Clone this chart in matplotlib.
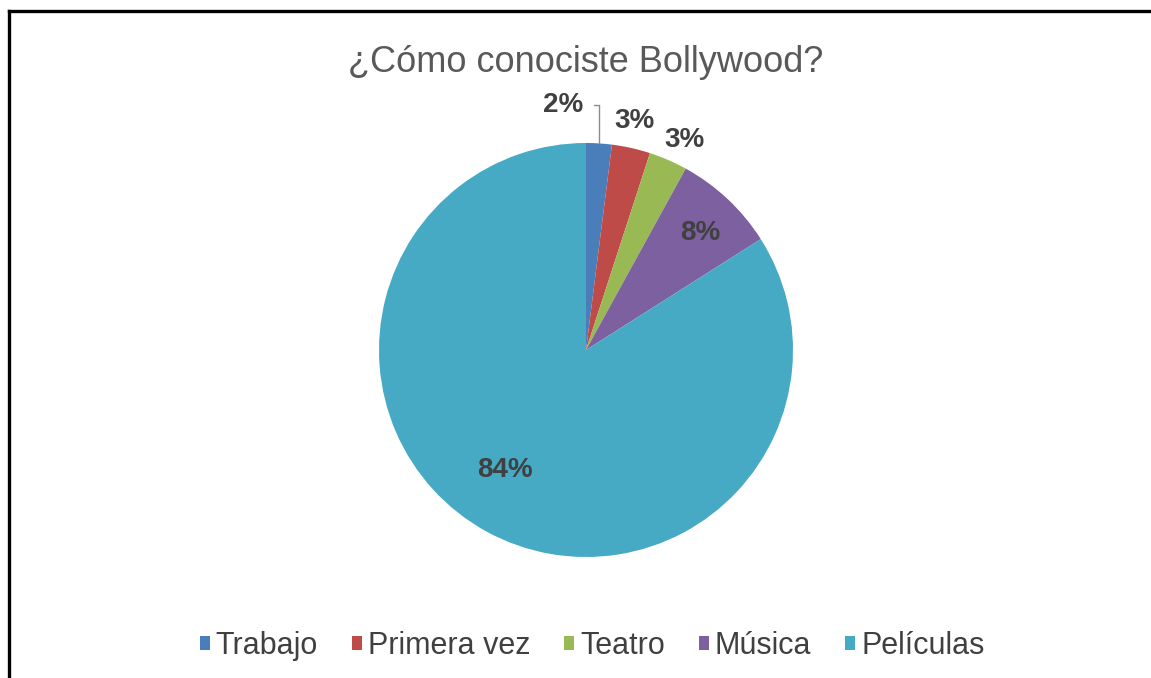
import matplotlib.pyplot as plt
from matplotlib.lines import Line2D
import numpy as np

plt.rcParams["font.family"] = ["Liberation Sans", "DejaVu Sans"]

categories = ["Trabajo", "Primera vez", "Teatro", "Música", "Películas"]
values = [2, 3, 3, 8, 84]
colors = ["#4A7EBB", "#BE4B48", "#98B954", "#7D60A0", "#46AAC5"]
# radial distance of each percentage label (pie radius = 1)
label_dist = [1.19, 1.13, 1.12, 0.79, 0.70]
label_shift = [9.0, 0.7, -1.8, -1.3, -5.0]  # degrees, counter-clockwise

W, H = 1151, 678
cx, cy, R = 586, 350, 207

fig = plt.figure(figsize=(W / 100, H / 100), dpi=100)
ax = fig.add_axes([0, 0, 1, 1])

wedges, _ = ax.pie(values, colors=colors, startangle=90, counterclock=False,
                   radius=1, wedgeprops=dict(linewidth=0))
ax.set_xlim(-cx / R, (W - cx) / R)
ax.set_ylim((cy - H) / R, cy / R)
ax.set_aspect("auto")
ax.axis("off")

for i, w in enumerate(wedges):
    mid = np.deg2rad((w.theta1 + w.theta2) / 2 + label_shift[i])
    x, y = label_dist[i] * np.cos(mid), label_dist[i] * np.sin(mid)
    txt = f"{values[i]}%"
    if i == 0:
        edge = np.deg2rad((w.theta1 + w.theta2) / 2)
        ax.annotate(txt, xy=(np.cos(edge), np.sin(edge)), xytext=(x, y),
                    ha="center", va="center", fontsize=20, fontweight="bold",
                    color="#404040",
                    arrowprops=dict(arrowstyle="-", color="#8c8c8c", lw=1,
                                    shrinkA=6, shrinkB=0,
                                    connectionstyle="angle,angleA=0,angleB=90,rad=0"))
    else:
        ax.text(x, y, txt, ha="center", va="center", fontsize=20,
                fontweight="bold", color="#404040")

fig.text(cx / W, 1 - 62 / H, "¿Cómo conociste Bollywood?", ha="center",
         va="center", fontsize=26, color="#595959")

fig.legend(wedges, categories, loc="center", bbox_to_anchor=(592 / W, 1 - 646 / H),
           ncol=5, frameon=False, fontsize=22, labelcolor="#404040",
           handlelength=0.33, handleheight=0.33, handletextpad=0.2,
           columnspacing=1.1)

# partial frame (left and top edges)
fig.add_artist(Line2D([8.5 / W, 8.5 / W], [0, 1 - 11 / H], color="black", lw=2.4))
fig.add_artist(Line2D([8.5 / W, 1], [1 - 11 / H, 1 - 11 / H], color="black", lw=2.4))

fig.savefig("out.png", dpi=100)
